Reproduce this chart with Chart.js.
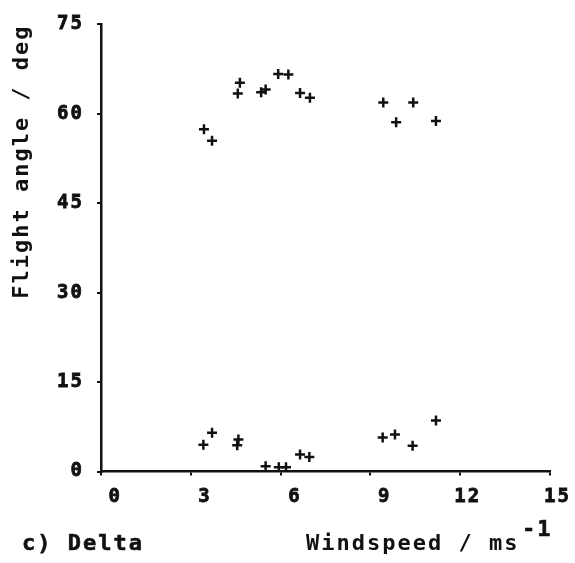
<!DOCTYPE html>
<html>
<head>
<meta charset="utf-8">
<script src="https://cdn.jsdelivr.net/npm/chart.js@4/dist/chart.umd.min.js"></script>
<style>
  html, body { margin: 0; padding: 0; background: #fff; }
  #wrap { width: 575px; height: 563px; }
</style>
</head>
<body>
<div id="wrap"><canvas id="c" width="575" height="563"></canvas></div>
<script>
// Windspeed (m/s) and flight angle (deg) for the Delta runs
const windspeed = [
  3.44, 3.71, 4.64, 4.57, 5.35, 5.50, 5.92, 6.26, 6.65, 6.98,
  9.43, 10.43, 9.86, 11.19,
  3.42, 3.71, 4.59, 4.55, 5.50, 5.94, 6.18, 6.65, 6.96,
  9.41, 9.82, 10.41, 11.19
];
const flightAngle = [
  57.4, 55.5, 65.2, 63.4, 63.6, 64.1, 66.7, 66.6, 63.5, 62.7,
  61.9, 61.9, 58.6, 58.8,
  4.5, 6.5, 5.35, 4.4, 0.9, 0.7, 0.7, 2.85, 2.45,
  5.7, 6.2, 4.3, 8.55
];
const xTicks = [0, 3, 6, 9, 12, 15];
const yTicks = [0, 15, 30, 45, 60, 75];

const FONT = 'DejaVu Sans Mono';
const INK = '#111';

const points = windspeed.map((w, i) => ({ x: w, y: flightAngle[i] }));

// Wide plotter-style lettering
const spacing = {
  id: 'spacing',
  beforeUpdate(chart) { chart.ctx.letterSpacing = '2px'; },
  beforeDraw(chart) { chart.ctx.letterSpacing = '2px'; }
};

// Panel caption and the unit exponent
const captions = {
  id: 'captions',
  afterDraw(chart) {
    const ctx = chart.ctx;
    ctx.save();
    ctx.letterSpacing = '2px';
    ctx.fillStyle = INK;
    ctx.strokeStyle = INK;
    ctx.lineWidth = 0.6;
    ctx.font = 'bold 22px ' + FONT;
    ctx.textBaseline = 'middle';
    ctx.textAlign = 'left';
    ctx.fillText('c) Delta', 22, 544);
    ctx.strokeText('c) Delta', 22, 544);
    ctx.fillText('-1', 522, 530);
    ctx.strokeText('-1', 522, 530);
    ctx.restore();
  }
};

const tickFont = { family: FONT, size: 19, weight: 'bold' };
const titleFont = { family: FONT, size: 22, weight: 'bold' };

new Chart(document.getElementById('c'), {
  type: 'scatter',
  data: {
    datasets: [{
      data: points,
      pointStyle: 'cross',
      pointRadius: 5,
      pointHoverRadius: 5,
      borderColor: INK,
      backgroundColor: INK,
      pointBorderWidth: 2.5
    }]
  },
  options: {
    responsive: false,
    devicePixelRatio: 1,
    animation: false,
    events: [],
    layout: { padding: { left: 0, top: 20, right: 25, bottom: 0 } },
    plugins: { legend: { display: false }, tooltip: { enabled: false } },
    scales: {
      x: {
        type: 'linear',
        min: 0, max: 15,
        afterBuildTicks(scale) { scale.ticks = xTicks.map(v => ({ value: v })); },
        afterFit(scale) { scale.height = 91.5; },
        grid: { display: true, drawOnChartArea: false, drawTicks: true, tickLength: 4, color: INK, lineWidth: 2 },
        border: { display: true, color: INK, width: 2.5 },
        ticks: {
          color: INK,
          font: tickFont,
          textStrokeColor: INK,
          textStrokeWidth: 0.8,
          align: 'end',
          labelOffset: 21,
          padding: 10,
          maxRotation: 0
        },
        title: {
          display: true,
          text: 'Windspeed / ms  ',
          align: 'end',
          color: INK,
          font: titleFont,
          padding: { top: 0, bottom: 6 }
        }
      },
      y: {
        type: 'linear',
        min: 0, max: 75,
        afterBuildTicks(scale) { scale.ticks = yTicks.map(v => ({ value: v })); },
        afterFit(scale) { scale.width = 101; },
        grid: { display: true, drawOnChartArea: false, drawTicks: true, tickLength: 4, color: INK, lineWidth: 2 },
        border: { display: true, color: INK, width: 2.5 },
        ticks: {
          color: INK,
          font: tickFont,
          textStrokeColor: INK,
          textStrokeWidth: 0.8,
          padding: 13
        },
        title: {
          display: true,
          text: 'Flight angle / deg',
          align: 'end',
          color: INK,
          font: titleFont,
          padding: { top: 9, bottom: 0 }
        }
      }
    }
  },
  plugins: [spacing, captions]
});
</script>
</body>
</html>
